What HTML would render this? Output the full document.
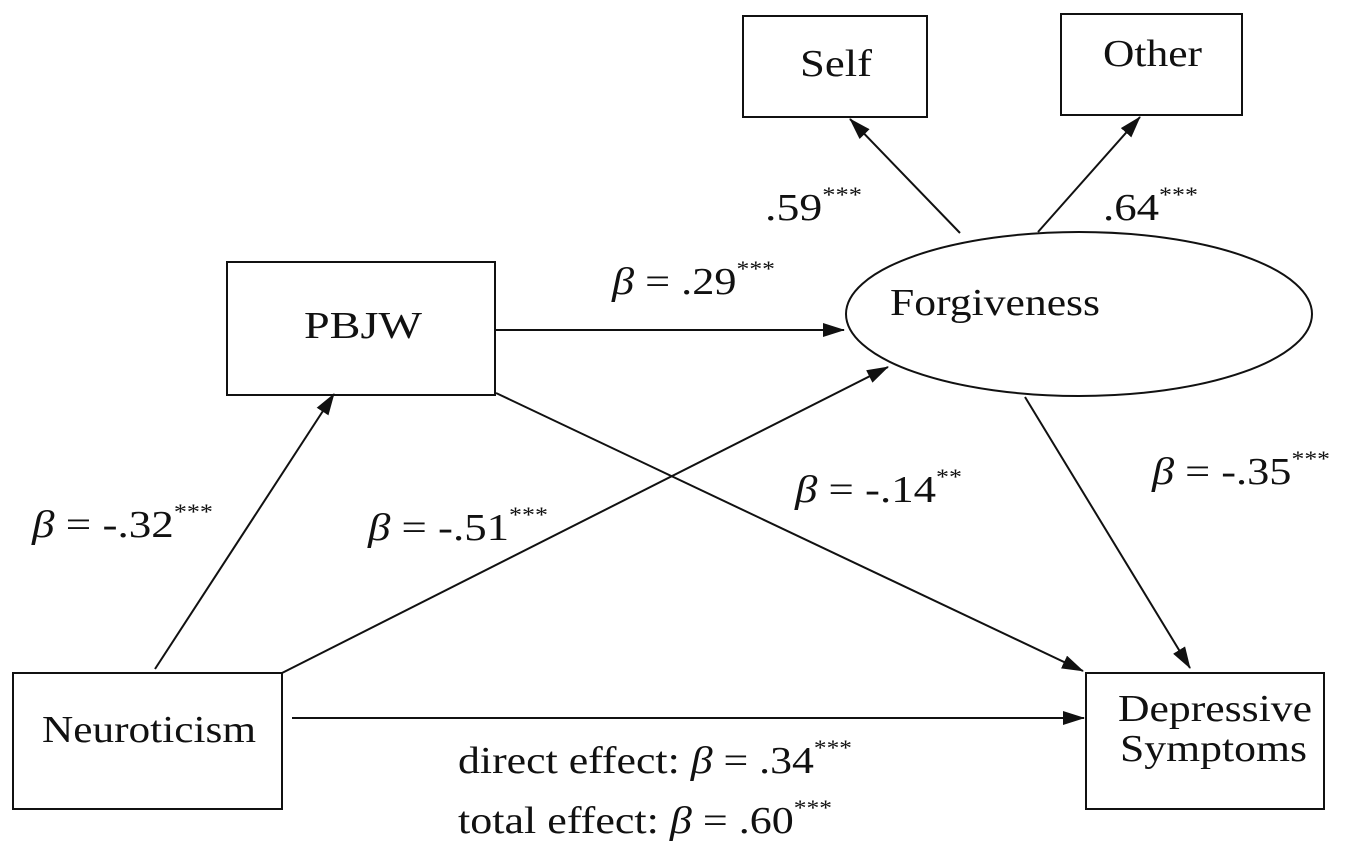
<!DOCTYPE html>
<html><head><meta charset="utf-8"><style>
html,body{margin:0;padding:0;background:#fff;}
svg{display:block;}
text{font-family:"Liberation Serif",serif;fill:#111;}
</style></head><body>
<svg width="1355" height="858" viewBox="0 0 1355 858" xmlns="http://www.w3.org/2000/svg">
<defs>
<marker id="b" markerWidth="22" markerHeight="14" refX="21" refY="7" orient="auto" markerUnits="userSpaceOnUse">
<path d="M0,0 L22,7 L0,14 Z" fill="#111"/>
</marker>
</defs>
<g fill="none" stroke="#111" stroke-width="2">
<rect x="743" y="16" width="184" height="101"/>
<rect x="1061" y="14" width="181" height="101"/>
<rect x="227" y="262" width="268" height="133"/>
<rect x="13" y="673" width="269" height="136"/>
<rect x="1086" y="673" width="238" height="136"/>
<ellipse cx="1079" cy="314" rx="233" ry="82"/>
<line x1="496" y1="330" x2="844" y2="330" marker-end="url(#b)"/>
<line x1="155" y1="669" x2="334" y2="394" marker-end="url(#b)"/>
<line x1="282" y1="673" x2="888" y2="367" marker-end="url(#b)"/>
<line x1="496" y1="393" x2="1083" y2="671" marker-end="url(#b)"/>
<line x1="1025" y1="397" x2="1190" y2="668" marker-end="url(#b)"/>
<line x1="292" y1="718" x2="1084" y2="718" marker-end="url(#b)"/>
<line x1="960" y1="233" x2="850" y2="119" marker-end="url(#b)"/>
<line x1="1038" y1="232" x2="1140" y2="117" marker-end="url(#b)"/>
</g>
<g font-size="38">
<text x="800" y="76" textLength="72" lengthAdjust="spacingAndGlyphs">Self</text>
<text x="1103" y="66" textLength="99" lengthAdjust="spacingAndGlyphs">Other</text>
<text x="304" y="338" textLength="118" lengthAdjust="spacingAndGlyphs">PBJW</text>
<text x="890" y="315" textLength="210" lengthAdjust="spacingAndGlyphs">Forgiveness</text>
<text x="42" y="742" textLength="214" lengthAdjust="spacingAndGlyphs">Neuroticism</text>
<text x="1118" y="721" textLength="194" lengthAdjust="spacingAndGlyphs">Depressive</text>
<text x="1120" y="761" textLength="187" lengthAdjust="spacingAndGlyphs">Symptoms</text>
<text x="765" y="220" textLength="97" lengthAdjust="spacingAndGlyphs">.59<tspan font-size="22" dy="-18">***</tspan></text>
<text x="1103" y="220" textLength="95" lengthAdjust="spacingAndGlyphs">.64<tspan font-size="22" dy="-18">***</tspan></text>
<text x="612" y="294" textLength="163" lengthAdjust="spacingAndGlyphs"><tspan font-style="italic">β</tspan> = .29<tspan font-size="22" dy="-18">***</tspan></text>
<text x="32" y="537" textLength="181" lengthAdjust="spacingAndGlyphs"><tspan font-style="italic">β</tspan> = -.32<tspan font-size="22" dy="-18">***</tspan></text>
<text x="368" y="540" textLength="180" lengthAdjust="spacingAndGlyphs"><tspan font-style="italic">β</tspan> = -.51<tspan font-size="22" dy="-18">***</tspan></text>
<text x="795" y="502" textLength="167" lengthAdjust="spacingAndGlyphs"><tspan font-style="italic">β</tspan> = -.14<tspan font-size="22" dy="-18">**</tspan></text>
<text x="1152" y="484" textLength="178" lengthAdjust="spacingAndGlyphs"><tspan font-style="italic">β</tspan> = -.35<tspan font-size="22" dy="-18">***</tspan></text>
<text x="458" y="773" textLength="394" lengthAdjust="spacingAndGlyphs">direct effect: <tspan font-style="italic">β</tspan> = .34<tspan font-size="22" dy="-18">***</tspan></text>
<text x="458" y="833" textLength="374" lengthAdjust="spacingAndGlyphs">total effect: <tspan font-style="italic">β</tspan> = .60<tspan font-size="22" dy="-18">***</tspan></text>
</g>
</svg>
</body></html>
